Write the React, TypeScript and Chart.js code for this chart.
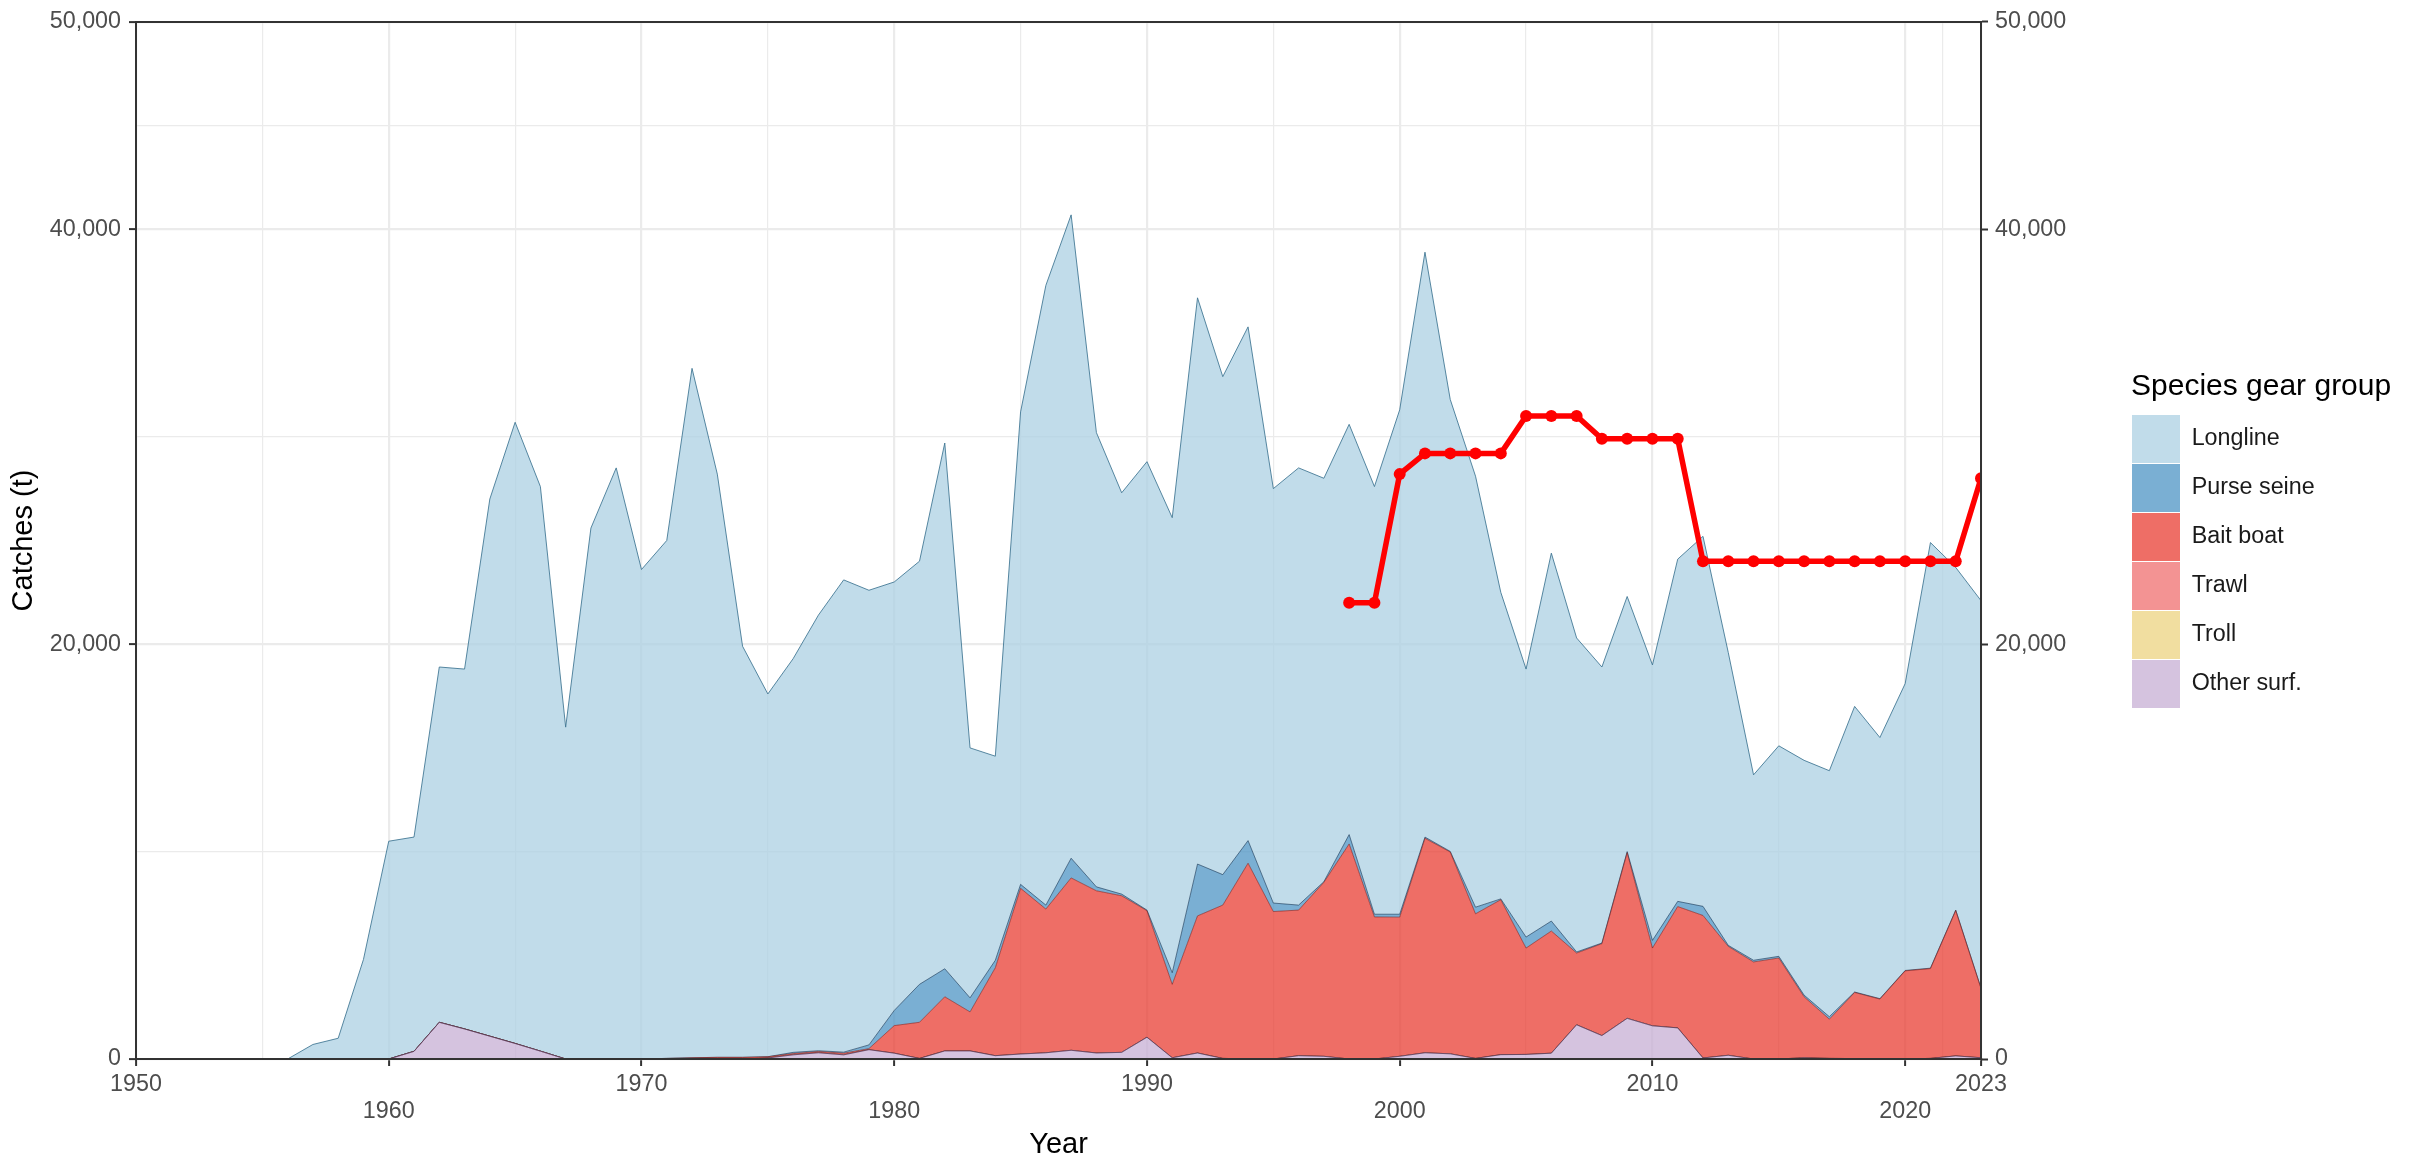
import React, { useEffect, useRef } from "react";
import { Chart, registerables } from "chart.js";

Chart.register(...registerables);

const FONT = "'Liberation Sans', Arial, Helvetica, sans-serif";

// ---------- data ----------
const years = [
  1950, 1951, 1952, 1953, 1954, 1955, 1956, 1957, 1958, 1959,
  1960, 1961, 1962, 1963, 1964, 1965, 1966, 1967, 1968, 1969,
  1970, 1971, 1972, 1973, 1974, 1975, 1976, 1977, 1978, 1979,
  1980, 1981, 1982, 1983, 1984, 1985, 1986, 1987, 1988, 1989,
  1990, 1991, 1992, 1993, 1994, 1995, 1996, 1997, 1998, 1999,
  2000, 2001, 2002, 2003, 2004, 2005, 2006, 2007, 2008, 2009,
  2010, 2011, 2012, 2013, 2014, 2015, 2016, 2017, 2018, 2019,
  2020, 2021, 2022, 2023,
];

const otherSurf = [
  0, 0, 0, 0, 0, 0, 0, 0, 0, 0,
  0, 370, 1770, 1450, 1100, 750, 380, 0, 0, 0,
  0, 0, 0, 0, 0, 50, 200, 300, 200, 450,
  280, 30, 390, 390, 160, 240, 300, 420, 290, 320,
  1050, 60, 290, 30, 0, 0, 160, 130, 0, 0,
  130, 300, 250, 30, 210, 220, 280, 1650, 1130, 1960,
  1600, 1500, 50, 180, 0, 0, 60, 30, 20, 0,
  0, 30, 150, 60,
];

const troll = [
  0, 0, 0, 0, 0, 0, 0, 0, 0, 0,
  0, 0, 0, 0, 0, 0, 0, 0, 0, 0,
  0, 0, 0, 0, 0, 0, 0, 0, 0, 0,
  0, 0, 0, 0, 0, 0, 0, 0, 0, 0,
  0, 0, 0, 0, 0, 0, 0, 0, 0, 0,
  0, 0, 0, 0, 0, 0, 0, 0, 0, 0,
  0, 0, 0, 0, 0, 0, 0, 0, 0, 0,
  0, 0, 0, 0,
];

const trawl = [
  0, 0, 0, 0, 0, 0, 0, 0, 0, 0,
  0, 0, 0, 0, 0, 0, 0, 0, 0, 0,
  0, 0, 0, 0, 0, 0, 0, 0, 0, 0,
  0, 0, 0, 0, 0, 0, 0, 0, 0, 0,
  0, 0, 0, 0, 0, 0, 0, 0, 0, 0,
  0, 0, 0, 0, 0, 0, 0, 0, 0, 0,
  0, 0, 0, 0, 0, 0, 0, 0, 0, 0,
  0, 0, 0, 0,
];

const baitBoat = [
  0, 0, 0, 0, 0, 0, 0, 0, 0, 0,
  0, 0, 0, 0, 0, 0, 0, 0, 0, 0,
  0, 30, 60, 80, 80, 60, 60, 60, 80, 50,
  1330, 1740, 2610, 1880, 4240, 7990, 6930, 8310, 7820, 7550,
  6100, 3540, 6610, 7390, 9440, 7110, 7020, 8390, 10370, 6850,
  6710, 10340, 9730, 6970, 7470, 5130, 5890, 3460, 4430, 7990,
  3750, 5850, 6870, 5250, 4680, 4870, 2940, 1890, 3190, 2890,
  4250, 4330, 7010, 3340,
];

const purseSeine = [
  0, 0, 0, 0, 0, 0, 0, 0, 0, 0,
  0, 0, 0, 0, 0, 0, 0, 0, 0, 0,
  0, 0, 0, 0, 0, 0, 60, 40, 50, 180,
  730, 1830, 1350, 680, 360, 190, 190, 950, 190, 80,
  30, 560, 2500, 1470, 1090, 410, 240, 30, 450, 130,
  140, 60, 30, 320, 40, 530, 480, 50, 30, 50,
  370, 250, 440, 50, 80, 80, 80, 120, 20, 20,
  20, 20, 20, 20,
];

const longline = [
  0, 0, 0, 0, 0, 0, 0, 700, 1000, 4800,
  10500, 10330, 17130, 17350, 25900, 29950, 27220, 16000, 25600, 28500,
  23600, 24970, 33240, 28120, 19820, 17490, 18980, 21000, 22770, 21920,
  20660, 20400, 25350, 12050, 9840, 22780, 29880, 31020, 21900, 19350,
  21620, 21940, 27300, 24010, 24770, 19980, 21080, 19450, 19780, 20620,
  24320, 28200, 21790, 20780, 14780, 12920, 17740, 15140, 13310, 12300,
  13280, 16500, 17840, 14120, 8940, 10150, 11320, 11860, 13770, 12590,
  13830, 20520, 16520, 18680,
];

const tacYears = [
  1998, 1999, 2000, 2001, 2002, 2003, 2004, 2005, 2006, 2007,
  2008, 2009, 2010, 2011, 2012, 2013, 2014, 2015, 2016, 2017,
  2018, 2019, 2020, 2021, 2022, 2023,
];
const tacValues = [
  22000, 22000, 28200, 29200, 29200, 29200, 29200, 31000, 31000, 31000,
  29900, 29900, 29900, 29900, 24000, 24000, 24000, 24000, 24000, 24000,
  24000, 24000, 24000, 24000, 24000, 28000,
];

const xTicksMajor = [1950, 1960, 1970, 1980, 1990, 2000, 2010, 2020, 2023];
const xTicksMinor = [1955, 1965, 1975, 1985, 1995, 2005, 2015, 2021.5];
const yTicksMajor = [0, 20000, 40000, 50000];
const yTicksMinor = [10000, 30000, 45000];

const seriesNames = ["Other surf.", "Troll", "Trawl", "Bait boat", "Purse seine", "Longline"];
const seriesValues = [otherSurf, troll, trawl, baitBoat, purseSeine, longline];
const seriesColors = [
  "rgba(199,175,212,0.75)",
  "rgba(236,211,128,0.75)",
  "rgba(239,111,111,0.75)",
  "rgba(232,62,51,0.75)",
  "rgba(78,148,196,0.75)",
  "rgba(172,208,227,0.75)",
];
const seriesLines = [
  "rgba(70,40,90,0.55)",
  "rgba(90,70,20,0.45)",
  "rgba(110,30,30,0.5)",
  "rgba(110,20,20,0.55)",
  "rgba(20,50,80,0.6)",
  "rgba(60,115,145,0.85)",
];

const AXIS_DARK = "#333333";
const GRID = "#ebebeb";
const TICK_TEXT = "#4d4d4d";
const LEGEND_WIDTH = 294;

// widen the built-in legend box so its title is not clipped
const legendWidthPlugin: any = {
  id: "legendWidth",
  afterInit(chart: any) {
    const lg = chart.legend;
    if (!lg || lg.__patched) return;
    const orig = lg.fit;
    lg.fit = function (this: any) {
      orig.call(this);
      this.width = LEGEND_WIDTH;
    };
    lg.__patched = true;
  },
};

export default function App() {
  const ref = useRef<HTMLCanvasElement>(null);

  useEffect(() => {
    const canvas = ref.current;
    if (!canvas) return;
    Chart.defaults.font.family = FONT;

    const xAll = [...xTicksMajor, ...xTicksMinor].sort((a, b) => a - b);
    const yAll = [...yTicksMajor, ...yTicksMinor].sort((a, b) => a - b);
    const isMajorX = (v: number) => xTicksMajor.includes(v);
    const isMajorY = (v: number) => yTicksMajor.includes(v);

    const areaSets: any[] = seriesNames.map((name, i) => ({
      type: "line",
      label: name,
      data: years.map((yr, j) => ({ x: yr, y: seriesValues[i][j] })),
      backgroundColor: seriesColors[i],
      borderColor: seriesLines[i],
      borderWidth: 1,
      pointRadius: 0,
      pointHoverRadius: 0,
      tension: 0,
      fill: i === 0 ? "origin" : "-1",
      xAxisID: "x",
      yAxisID: "y",
    }));

    const tacSet: any = {
      type: "line",
      label: "TAC",
      data: tacYears.map((yr, j) => ({ x: yr, y: tacValues[j] })),
      borderColor: "#ff0000",
      backgroundColor: "#ff0000",
      borderWidth: 5.5,
      pointRadius: 6,
      pointBackgroundColor: "#ff0000",
      pointBorderWidth: 0,
      pointHoverRadius: 6,
      tension: 0,
      fill: false,
      xAxisID: "x",
      yAxisID: "y2",
      order: -1,
      clip: 0,
    };

    const xTickCallback = (v: any) => {
      const val = Number(v);
      const idx = xTicksMajor.indexOf(val);
      if (idx < 0) return "";
      return idx % 2 === 0 ? String(val) : ["", String(val)];
    };
    const yTickCallback = (v: any) => {
      const val = Number(v);
      return isMajorY(val) ? val.toLocaleString("en-US") : "";
    };

    const chart = new Chart(canvas, {
      type: "line",
      data: { datasets: [...areaSets, tacSet] },
      plugins: [legendWidthPlugin],
      options: {
        responsive: false,
        maintainAspectRatio: false,
        devicePixelRatio: 1,
        animation: false,
        events: [],
        layout: { padding: { top: 15.5, left: 0, bottom: 0, right: 0 } },
        plugins: {
          tooltip: { enabled: false },
          legend: {
            display: true,
            position: "right",
            align: "center",
            fullSize: false,
            reverse: true,
            title: {
              display: true,
              text: "Species gear group",
              color: "#000000",
              position: "start",
              font: { size: 30, family: FONT },
              padding: { top: 0, bottom: 6 },
            },
            labels: {
              boxWidth: 48,
              boxHeight: 48,
              padding: 1,
              color: "#1a1a1a",
              font: { size: 23.3, family: FONT },
              filter: (item: any) => item.text !== "TAC",
              generateLabels: (c: any) => {
                const items = (Chart.defaults as any).plugins.legend.labels.generateLabels(c);
                return items.map((it: any) => ({ ...it, lineWidth: 0, strokeStyle: "rgba(0,0,0,0)" }));
              },
            },
          },
        },
        scales: {
          x: {
            type: "linear",
            position: "bottom",
            min: 1950,
            max: 2023,
            bounds: "data",
            afterBuildTicks: (s: any) => {
              s.ticks = xAll.map((v) => ({ value: v }));
            },
            afterFit: (s: any) => {
              s.height = 103;
            },
            grid: {
              color: () => GRID,
              lineWidth: (ctx: any) => (ctx.tick && isMajorX(ctx.tick.value) ? 2.2 : 1.2),
              tickColor: (ctx: any) => (ctx.tick && isMajorX(ctx.tick.value) ? AXIS_DARK : "rgba(0,0,0,0)"),
              tickWidth: 2,
              tickLength: 7,
              drawTicks: true,
            },
            border: { display: true, color: AXIS_DARK, width: 2, z: 1 },
            ticks: {
              autoSkip: false,
              maxRotation: 0,
              minRotation: 0,
              padding: 5.5,
              color: TICK_TEXT,
              font: { size: 23.3, lineHeight: 1.16, family: FONT },
              callback: xTickCallback,
            },
            title: {
              display: true,
              text: "Year",
              color: "#000000",
              font: { size: 29, family: FONT },
              padding: { top: 0, bottom: 0 },
            },
          },
          xTop: {
            type: "linear",
            position: "top",
            min: 1950,
            max: 2023,
            bounds: "data",
            afterFit: (s: any) => {
              s.height = 0;
            },
            grid: { display: false, drawTicks: false },
            border: { display: true, color: AXIS_DARK, width: 2, z: 1 },
            ticks: { display: false },
          },
          y: {
            type: "linear",
            position: "left",
            stacked: true,
            min: 0,
            max: 50000,
            bounds: "data",
            afterBuildTicks: (s: any) => {
              s.ticks = yAll.map((v) => ({ value: v }));
            },
            afterFit: (s: any) => {
              s.width = 136;
            },
            grid: {
              color: () => GRID,
              lineWidth: (ctx: any) => (ctx.tick && isMajorY(ctx.tick.value) ? 2.2 : 1.2),
              tickColor: (ctx: any) => (ctx.tick && isMajorY(ctx.tick.value) ? AXIS_DARK : "rgba(0,0,0,0)"),
              tickWidth: 2,
              tickLength: 7,
              drawTicks: true,
            },
            border: { display: true, color: AXIS_DARK, width: 2, z: 1 },
            ticks: {
              autoSkip: false,
              padding: 8,
              color: TICK_TEXT,
              font: { size: 23.3, family: FONT },
              callback: yTickCallback,
            },
            title: {
              display: true,
              text: "Catches (t)",
              color: "#000000",
              font: { size: 29, family: FONT },
              padding: { top: 6.6, bottom: 0 },
            },
          },
          y2: {
            type: "linear",
            position: "right",
            stacked: false,
            min: 0,
            max: 50000,
            bounds: "data",
            afterBuildTicks: (s: any) => {
              s.ticks = yAll.map((v) => ({ value: v }));
            },
            afterFit: (s: any) => {
              s.width = 150;
            },
            grid: {
              drawOnChartArea: false,
              color: "rgba(0,0,0,0)",
              tickColor: (ctx: any) => (ctx.tick && isMajorY(ctx.tick.value) ? AXIS_DARK : "rgba(0,0,0,0)"),
              tickWidth: 2,
              tickLength: 7,
              drawTicks: true,
            },
            border: { display: true, color: AXIS_DARK, width: 2, z: 1 },
            ticks: {
              autoSkip: false,
              padding: 7,
              color: TICK_TEXT,
              font: { size: 23.3, family: FONT },
              callback: yTickCallback,
            },
          },
        },
      } as any,
    });

    return () => {
      chart.destroy();
    };
  }, []);

  return (
    <div style={{ position: "absolute", left: 0, top: 0, width: 2425, height: 1162, background: "#ffffff" }}>
      <canvas
        ref={ref}
        width={2425}
        height={1162}
        style={{ display: "block", width: "2425px", height: "1162px" }}
      />
    </div>
  );
}
